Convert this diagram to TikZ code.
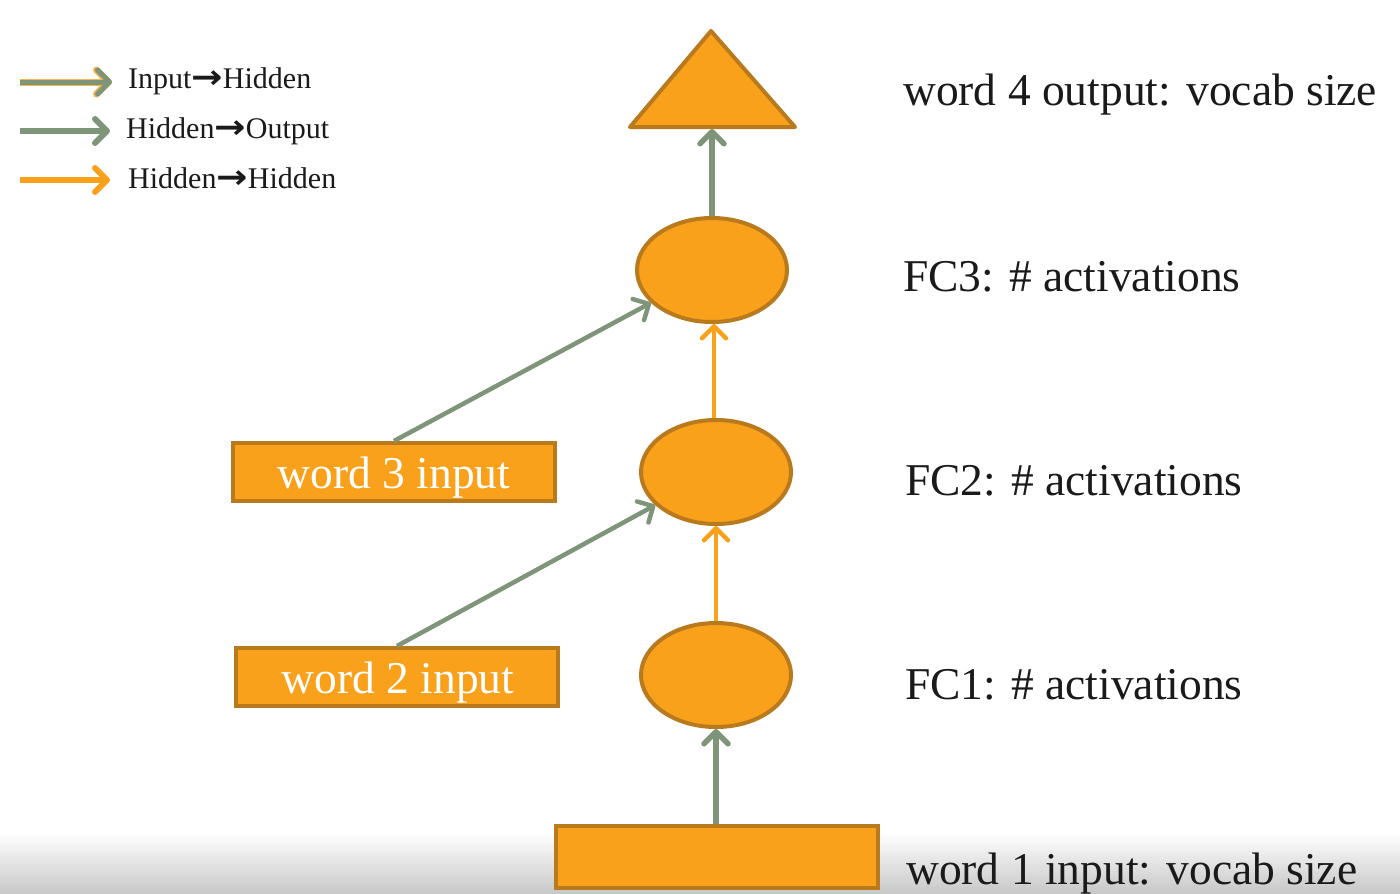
\documentclass[tikz,border=0pt]{standalone}
\usepackage{fontspec}
\setmainfont{Liberation Serif}
\newfontfamily\dejavu{DejaVu Sans}
\usetikzlibrary{arrows.meta,shapes.geometric}
\definecolor{orfill}{HTML}{F9A11B}
\definecolor{orline}{HTML}{B97A1E}
\definecolor{gg}{HTML}{7E957A}
\definecolor{txt}{HTML}{1A1A1A}
\tikzset{
  unit/.style={ellipse,fill=orfill,draw=orline,line width=4pt,minimum width=150pt,minimum height=104pt,inner sep=0pt},
  inbox/.style={rectangle,fill=orfill,draw=orline,line width=4pt,minimum width=322pt,minimum height=58pt,inner sep=0pt,text=white,font=\fontsize{45.5}{48}\selectfont},
  lbl/.style={anchor=base west,inner sep=0pt,text=txt,font=\fontsize{45.5}{48}\selectfont},
  leg/.style={anchor=base west,inner sep=0pt,text=txt,font=\fontsize{30}{32}\selectfont},
  tip/.style={-{Straight Barb[length=12pt,width=24pt,round]}},
  ggarrow/.style={tip,draw=gg,line width=5.5pt},
  orarrow/.style={tip,draw=orfill,line width=4.5pt},
  diag/.style={tip,draw=gg,line width=4.5pt},
}
\newcommand{\rar}{{\dejavu\bfseries\scalebox{1.25}[1.1]{→}}}
\begin{document}
\begin{tikzpicture}[x=1pt,y=-1pt]
\useasboundingbox (0,0) rectangle (1400,894);
\fill[white] (0,0) rectangle (1400,894);
\shade[top color=white,bottom color=black!22] (0,832) rectangle (1400,894);

% legend
\coordinate (l1a) at (20,82); \coordinate (l1b) at (112,82);
\coordinate (l2a) at (20,131); \coordinate (l2b) at (110,131);
\coordinate (l3a) at (20,180); \coordinate (l3b) at (110,180);
\draw[tip,draw=orfill!80,line width=7pt] (l1a) -- (l1b);
\draw[tip,draw=gg,line width=5pt] (l1a) -- (l1b);
\draw[ggarrow,line width=6pt] (l2a) -- (l2b);
\draw[orarrow,line width=6pt] (l3a) -- (l3b);
\node[leg] (t1) at (128,88) {Input\rar Hidden};
\node[leg] (t2) at (126,138) {Hidden\rar Output};
\node[leg] (t3) at (128,188) {Hidden\rar Hidden};

% output triangle
\draw[fill=orfill,draw=orline,line width=4pt,line join=round] (711,31) -- (795,127) -- (630,127) -- cycle;
\coordinate (tri) at (712,129);

% units
\node[unit] (fc3) at (712,270) {};
\node[unit] (fc2) at (716,472) {};
\node[unit] (fc1) at (716,675) {};
\node[inbox,minimum width=322pt,minimum height=62pt] (w1) at (717,857) {};
\node[inbox] (w3) at (394,472) {};
\node[inbox] (w2) at (397,677) {};
\node[text=white,font=\fontsize{45.5}{48}\selectfont,anchor=base,inner sep=0pt] (w3t) at (394,488) {word 3 input};
\node[text=white,font=\fontsize{45.5}{48}\selectfont,anchor=base,inner sep=0pt] (w2t) at (398,693) {word 2 input};

% connectors
\draw[ggarrow] (w1.north -| fc1) -- (fc1.south);
\draw[orarrow] (fc1.north) -- (fc2.south);
\draw[orarrow] ([xshift=-2pt]fc2.north) -- ([xshift=2pt]fc3.south);
\draw[ggarrow] (fc3.north) -- (tri);
\draw[diag] (w2.north) -- (fc2);
\draw[diag] (w3.north) -- (fc3);

% labels
\node[lbl] (o4) at (903,105) {word 4 output: vocab size};
\node[lbl] (f3) at (903,291) {FC3: \# activations};
\node[lbl] (f2) at (905,495) {FC2: \# activations};
\node[lbl] (f1) at (905,699) {FC1: \# activations};
\node[lbl] (i1) at (906,884) {word 1 input: vocab size};
\end{tikzpicture}
\end{document}
